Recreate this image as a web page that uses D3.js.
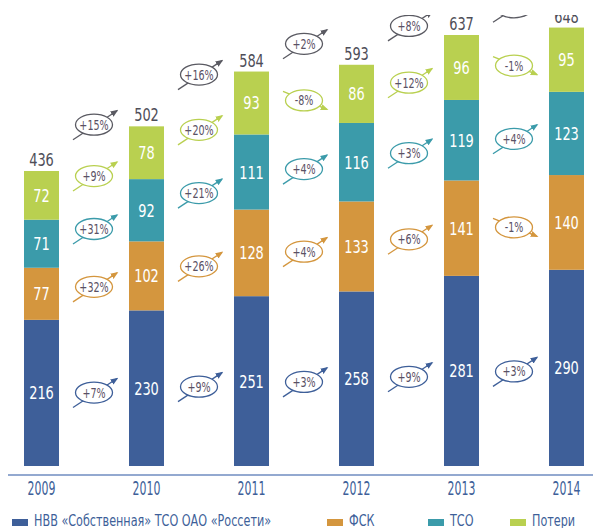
<!DOCTYPE html>
<html>
<head>
<meta charset="utf-8">
<script src="https://cdn.jsdelivr.net/npm/d3@7"></script>
<style>
  body { margin: 0; background: #fff; }
  svg text { font-family: "DejaVu Sans Condensed", "Liberation Sans", sans-serif; }
</style>
</head>
<body>
<svg id="chart" width="593" height="528"></svg>
<script>
const years = ['2009', '2010', '2011', '2012', '2013', '2014']
const own = [216, 230, 251, 258, 281, 290]
const fsk = [77, 102, 128, 133, 141, 140]
const tso = [71, 92, 111, 116, 119, 123]
const losses = [72, 78, 93, 86, 96, 95]
const totals = [436, 502, 584, 593, 637, 648]

// year-on-year change between neighbouring bars
const ownChange = ['+7%', '+9%', '+3%', '+9%', '+3%']
const fskChange = ['+32%', '+26%', '+4%', '+6%', '-1%']
const tsoChange = ['+31%', '+21%', '+4%', '+3%', '+4%']
const lossChange = ['+9%', '+20%', '-8%', '+12%', '-1%']
const totalChange = ['+15%', '+16%', '+2%', '+8%', '+2%']

const seriesNames = ['НВВ «Собственная» ТСО ОАО «Россети»', 'ФСК', 'ТСО', 'Потери']
const colors = ['#3e5f99', '#d4963e', '#3b9baa', '#b9d050']
const totalColor = '#5a5a62'

const svg = d3.select('#chart')

// the original font is a narrow DIN, so squeeze text horizontally
const narrow = (sx) => (d, i, n) => {
  const el = d3.select(n[i])
  return `translate(${el.attr('data-x')}, ${el.attr('data-y')}) scale(${sx}, 1)`
}

const x = d3.scaleBand()
  .domain(years)
  .range([24, 584])
  .paddingInner(2 / 3)
  .paddingOuter(0)

const y = d3.scaleLinear()
  .domain([0, 436])
  .range([466, 171])

// top of the picture is cut off
svg.append('clipPath').attr('id', 'cut')
  .append('rect').attr('x', 0).attr('y', 15).attr('width', 593).attr('height', 520)

const chart = svg.append('g').attr('clip-path', 'url(#cut)')

const rows = years.map((yr, i) => ({ year: yr, values: [own[i], fsk[i], tso[i], losses[i]], total: totals[i] }))
const stack = d3.stack().keys([0, 1, 2, 3]).value((d, k) => d.values[k])(rows)

const layers = chart.selectAll('g.layer')
  .data(stack)
  .enter()
  .append('g')
    .attr('class', 'layer')
    .attr('fill', (d, i) => colors[i])

layers.selectAll('rect')
  .data(d => d)
  .enter()
  .append('rect')
    .attr('x', d => x(d.data.year))
    .attr('y', d => y(d[1]))
    .attr('width', x.bandwidth())
    .attr('height', d => y(d[0]) - y(d[1]))

layers.selectAll('text')
  .data(d => d)
  .enter()
  .append('text')
    .attr('data-x', d => x(d.data.year) + x.bandwidth() / 2)
    .attr('data-y', d => (y(d[0]) + y(d[1])) / 2)
    .attr('transform', narrow(0.8))
    .attr('dy', '0.36em')
    .attr('text-anchor', 'middle')
    .attr('fill', '#fff')
    .style('font-size', '18px')
    .text(d => d[1] - d[0])

chart.selectAll('text.total')
  .data(rows)
  .enter()
  .append('text')
    .attr('class', 'total')
    .attr('data-x', d => x(d.year) + x.bandwidth() / 2)
    .attr('data-y', d => y(d3.sum(d.values)) - 5)
    .attr('transform', narrow(0.8))
    .attr('text-anchor', 'middle')
    .attr('fill', '#4e4e58')
    .style('font-size', '18px')
    .text(d => d.total)

// arrow heads
const defs = svg.append('defs')
const markerColors = colors.concat([totalColor])
markerColors.forEach((c, i) => {
  defs.append('marker')
    .attr('id', 'arr' + i)
    .attr('viewBox', '0 0 10 10')
    .attr('refX', 8).attr('refY', 5)
    .attr('markerWidth', 6).attr('markerHeight', 6)
    .attr('orient', 'auto')
    .append('path')
      .attr('d', 'M0,1 L10,5 L0,9 Z')
      .attr('fill', c)
})

// change bubbles, placed between the middles of the matching segments
const changes = [ownChange, fskChange, tsoChange, lossChange]
const bubbles = []
years.slice(0, -1).forEach((yr, i) => {
  const cx = (x(yr) + x.bandwidth() + x(years[i + 1])) / 2
  changes.forEach((arr, k) => {
    const a = stack[k][i], b = stack[k][i + 1]
    const mid = ((a[0] + a[1]) / 2 + (b[0] + b[1]) / 2) / 2
    bubbles.push({ cx: cx, cy: y(mid) + 2, label: arr[i], c: k })
  })
  bubbles.push({ cx: cx, cy: y((totals[i] + totals[i + 1]) / 2) - 24, label: totalChange[i], c: 4 })
})

const bub = chart.selectAll('g.bubble')
  .data(bubbles)
  .enter()
  .append('g')
    .attr('class', 'bubble')
    .attr('transform', d => `translate(${d.cx}, ${d.cy})`)

bub.append('line')
  .attr('x1', -21)
  .attr('y1', d => d.label[0] === '-' ? -9 : 15)
  .attr('x2', 23)
  .attr('y2', d => d.label[0] === '-' ? 9 : -14)
  .attr('stroke', d => markerColors[d.c])
  .attr('stroke-width', 1.3)
  .attr('marker-end', d => `url(#arr${d.c})`)

bub.append('ellipse')
  .attr('rx', 18.5)
  .attr('ry', 10.5)
  .attr('fill', '#fff')
  .attr('stroke', d => markerColors[d.c])
  .attr('stroke-width', 1.3)

bub.append('text')
  .attr('data-x', 0)
  .attr('data-y', 0)
  .attr('transform', narrow(0.76))
  .attr('text-anchor', 'middle')
  .attr('dy', '0.36em')
  .attr('fill', '#5a5164')
  .style('font-size', '14px')
  .text(d => d.label)

// axis line and years
svg.append('line')
  .attr('x1', 8).attr('x2', 593)
  .attr('y1', 475).attr('y2', 475)
  .attr('stroke', '#6f8cc0')
  .attr('stroke-width', 1.5)

svg.selectAll('text.year')
  .data(years)
  .enter()
  .append('text')
    .attr('class', 'year')
    .attr('data-x', d => x(d) + x.bandwidth() / 2)
    .attr('data-y', 495)
    .attr('transform', narrow(0.64))
    .attr('text-anchor', 'middle')
    .attr('fill', '#3e5f99')
    .style('font-size', '19px')
    .text(d => d)

// legend
const legendX = [12, 327, 428, 510]
const legend = svg.selectAll('g.legend')
  .data(seriesNames)
  .enter()
  .append('g')
    .attr('class', 'legend')
    .attr('transform', (d, i) => `translate(${legendX[i]}, 519)`)

legend.append('rect')
  .attr('width', 16)
  .attr('height', 7)
  .attr('fill', (d, i) => colors[i])

legend.append('text')
  .attr('data-x', 22)
  .attr('data-y', 7)
  .attr('transform', narrow(0.78))
  .attr('fill', '#3e5f99')
  .style('font-size', '16px')
  .text(d => d)
</script>
</body>
</html>
